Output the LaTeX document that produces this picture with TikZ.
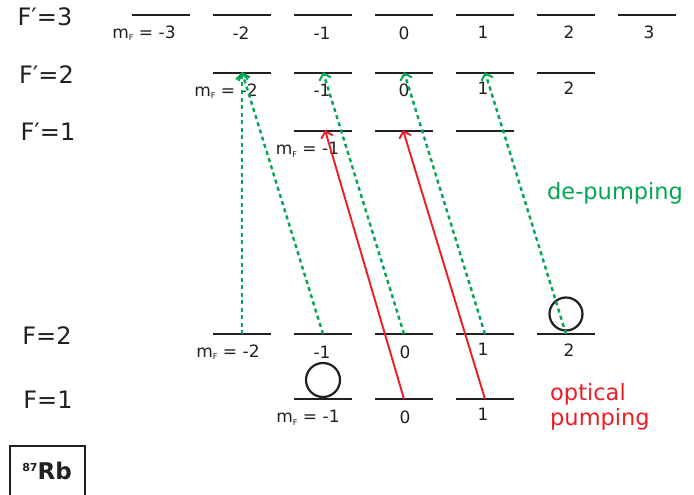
\documentclass[tikz,border=0pt]{standalone}
\usepackage{fontspec}
\setmainfont{DejaVu Sans}
\usetikzlibrary{arrows.meta}
\definecolor{lvl}{HTML}{231F20}
\definecolor{pgreen}{HTML}{00A651}
\definecolor{pred}{HTML}{ED1C24}
\newcommand\mfsub{m\raisebox{-2.5pt}{\fontsize{8}{8}\selectfont F}}
\tikzset{
  level/.style={draw=lvl, line width=2.6pt},
  bigLabel/.style={font=\fontsize{24}{26}\selectfont, text=lvl, inner sep=0pt},
  mlab/.style={font=\fontsize{17}{19}\selectfont, text=lvl, inner sep=0pt},
  depump/.style={draw=pgreen, line width=2.4pt, dash pattern=on 4pt off 3.5pt,
     -{Straight Barb[length=6pt,width=12pt,line width=2pt]}},
  pump/.style={draw=pred, line width=1.9pt,
     -{Straight Barb[length=6pt,width=12pt,line width=1.9pt]}},
  pop/.style={draw=lvl, line width=2.2pt},
}
\begin{document}
\begin{tikzpicture}[x=1pt,y=-1pt]
\useasboundingbox (0,0) rectangle (694,495);
% left labels
\node[bigLabel] (Lp3) at (45,17) {F′=3};
\node[bigLabel] (Lp2) at (46.5,75) {F′=2};
\node[bigLabel] (Lp1) at (48,132) {F′=1};
\node[bigLabel] (L2) at (47,335.5) {F=2};
\node[bigLabel] (L1) at (48,400) {F=1};
% levels
\foreach \m/\n in {-3/a,-2/b,-1/c,0/d,1/e,2/f,3/g}{
  \coordinate (T\n) at ({404+81*\m},15);
  \draw[level] ([xshift=-29pt]T\n) -- ([xshift=29pt]T\n);
}
\foreach \m/\n in {-2/b,-1/c,0/d,1/e,2/f}{
  \coordinate (S\n) at ({404+81*\m},73);
  \draw[level] ([xshift=-29pt]S\n) -- ([xshift=29pt]S\n);
  \coordinate (G\n) at ({404+81*\m},334);
  \draw[level] ([xshift=-29pt]G\n) -- ([xshift=29pt]G\n);
}
\foreach \m/\n in {-1/c,0/d,1/e}{
  \coordinate (O\n) at ({404+81*\m},131);
  \draw[level] ([xshift=-29pt]O\n) -- ([xshift=29pt]O\n);
  \coordinate (H\n) at ({404+81*\m},399);
  \draw[level] ([xshift=-29pt]H\n) -- ([xshift=29pt]H\n);
}
% F'=3 labels
\node[mlab] (t1) at (144,33) {\mfsub\ = -3};
\node[mlab] (t2) at (241,33) {-2};
\node[mlab] (t3) at (322,33) {-1};
\node[mlab] (t4) at (404,33) {0};
\node[mlab] (t5) at (483,32) {1};
\node[mlab] (t6) at (569,32) {2};
\node[mlab] (t7) at (649,32) {3};
% F'=2 labels
\node[mlab] (s1) at (226,91) {\mfsub\ = -2};
\node[mlab] (s2) at (322,90) {-1};
\node[mlab] (s3) at (404,90) {0};
\node[mlab] (s4) at (483,88) {1};
\node[mlab] (s5) at (569,88) {2};
% F'=1 label
\node[mlab] (o1) at (307.5,150) {\mfsub\ = -1};
% F=2 labels
\node[mlab] (g1) at (228,352) {\mfsub\ = -2};
\node[mlab] (g2) at (322,352) {-1};
\node[mlab] (g3) at (405,352) {0};
\node[mlab] (g4) at (483,349) {1};
\node[mlab] (g5) at (569,350) {2};
% F=1 labels
\node[mlab] (h1) at (308,418) {\mfsub\ = -1};
\node[mlab] (h2) at (405,417) {0};
\node[mlab] (h3) at (483,414) {1};
% population circles
\node[pop, circle, minimum size=34pt, inner sep=0pt] (c1) at (323,380) {};
\node[pop, circle, minimum size=33pt, inner sep=0pt] (c2) at (566,314) {};
% de-pumping arrows
\draw[depump] (Gb) -- ([yshift=1pt]Sb);
\draw[depump] (Gc) -- ([yshift=1pt]Sb);
\draw[depump] (Gd) -- ([yshift=1pt]Sc);
\draw[depump] (Ge) -- ([yshift=1pt]Sd);
\draw[depump] (Gf) -- ([yshift=1pt]Se);
% optical pumping arrows
\draw[pump] (Hd) -- ([xshift=2pt,yshift=1pt]Oc);
\draw[pump] (He) -- ([xshift=-1pt,yshift=1pt]Od);
% side labels
\node[anchor=base west, inner sep=0pt, text=pgreen, font=\fontsize{22.5}{25}\selectfont] (dp) at (547,199) {de-pumping};
\node[anchor=north west, inner sep=0pt, align=left, text=pred, font=\fontsize{22.5}{25}\selectfont] (op) at (550,383) {optical\\pumping};
% Rb box
\draw[draw=lvl, line width=2.2pt] (10,500) -- (10,446) -- (85,446) -- (85,500);
\node[inner sep=0pt, text=lvl, font=\fontsize{23}{24}\selectfont\bfseries] (rb) at (47,471) {\raisebox{8pt}{\fontsize{11}{11}\selectfont 87}Rb};
\end{tikzpicture}
\end{document}
